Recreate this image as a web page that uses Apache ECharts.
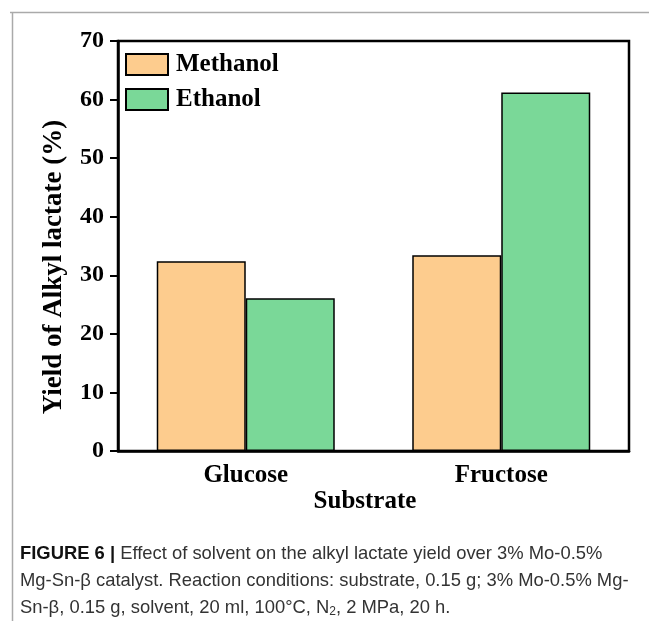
<!DOCTYPE html>
<html>
<head>
<meta charset="utf-8">
<script src="https://cdn.jsdelivr.net/npm/echarts@6/dist/echarts.min.js"></script>
<style>
  html, body { margin: 0; padding: 0; background: #fff; }
  #chart { width: 649px; height: 621px; }
</style>
</head>
<body>
<div id="chart"></div>
<script>
// Alkyl lactate yield by substrate and solvent
const categories = ['Glucose', 'Fructose'];
const methanolYield = [32.4, 33.4];
const ethanolYield = [26.1, 61.2];
const seriesNames = ['Methanol', 'Ethanol'];
const yTickMin = 0, yTickMax = 70, yTickStep = 10;

const serif = '"Liberation Serif", "Times New Roman", serif';
const sans = '"Liberation Sans", Arial, sans-serif';

const chart = echarts.init(document.getElementById('chart'), null, { renderer: 'canvas' });

const barStyle = (color) => ({ color: color, borderColor: '#000', borderWidth: 1.5 });

chart.setOption({
  backgroundColor: '#fff',
  animation: false,
  grid: {
    left: 118, right: 20, top: 41, bottom: 170,
    show: true, borderColor: '#000', borderWidth: 2.5, backgroundColor: 'transparent'
  },
  legend: {
    orient: 'vertical',
    left: 125, top: 52, padding: 0,
    itemWidth: 42, itemHeight: 21, itemGap: 10,
    icon: 'rect',
    data: seriesNames,
    textStyle: { fontFamily: serif, fontWeight: 'bold', fontSize: 25, color: '#000', padding: [0, 0, 0, 3] }
  },
  xAxis: {
    type: 'category',
    data: categories,
    axisLine: { lineStyle: { color: '#000', width: 2.5 } },
    axisTick: { alignWithLabel: true, length: 7, lineStyle: { color: '#000', width: 2 } },
    axisLabel: { fontFamily: serif, fontWeight: 'bold', fontSize: 25, color: '#000', margin: 12 }
  },
  yAxis: {
    type: 'value',
    min: yTickMin, max: yTickMax, interval: yTickStep,
    splitLine: { show: false },
    axisLine: { show: true, lineStyle: { color: '#000', width: 2.5 } },
    axisTick: { show: true, length: 8, lineStyle: { color: '#000', width: 2 } },
    axisLabel: { fontFamily: serif, fontWeight: 'bold', fontSize: 24, color: '#000', margin: 14 }
  },
  series: [
    { name: seriesNames[0], type: 'bar', data: methanolYield, barWidth: 89, barGap: '0%', itemStyle: barStyle('#FDCC8E') },
    { name: seriesNames[1], type: 'bar', data: ethanolYield, barWidth: 89, barGap: '0%', itemStyle: barStyle('#7AD898') }
  ],
  graphic: [
    // figure frame lines
    { type: 'line', shape: { x1: 10, y1: 12.5, x2: 649, y2: 12.5 }, style: { stroke: '#aaa', lineWidth: 1.5 } },
    { type: 'line', shape: { x1: 12.5, y1: 12, x2: 12.5, y2: 621 }, style: { stroke: '#aaa', lineWidth: 1.5 } },
    // axis titles
    {
      type: 'text', x: 54, y: 267, rotation: Math.PI / 2,
      style: { text: 'Yield of Alkyl lactate (%)', font: 'bold 27px ' + serif, fill: '#000', align: 'center', verticalAlign: 'middle' }
    },
    {
      type: 'text', x: 365, y: 502,
      style: { text: 'Substrate', font: 'bold 25px ' + serif, fill: '#000', align: 'center', verticalAlign: 'middle' }
    },
    // caption
    {
      type: 'text', x: 20, y: 554,
      style: {
        text: '{b|FIGURE 6 |} Effect of solvent on the alkyl lactate yield over 3% Mo-0.5%',
        font: '18.4px ' + sans, fill: '#333', verticalAlign: 'middle',
        rich: { b: { fontFamily: sans, fontWeight: 'bold', fontSize: 18.4, fill: '#111' } }
      }
    },
    {
      type: 'text', x: 20, y: 581,
      style: { text: 'Mg-Sn-β catalyst. Reaction conditions: substrate, 0.15 g; 3% Mo-0.5% Mg-', font: '18.4px ' + sans, fill: '#333', verticalAlign: 'middle' }
    },
    {
      type: 'text', x: 20, y: 608,
      style: {
        text: 'Sn-β, 0.15 g, solvent, 20 ml, 100°C, N{s|2}, 2 MPa, 20 h.',
        font: '18.4px ' + sans, fill: '#333', verticalAlign: 'middle',
        rich: { s: { fontFamily: sans, fontSize: 12, fill: '#333', padding: [8, 0, 0, 0] } }
      }
    }
  ]
});
</script>
</body>
</html>
